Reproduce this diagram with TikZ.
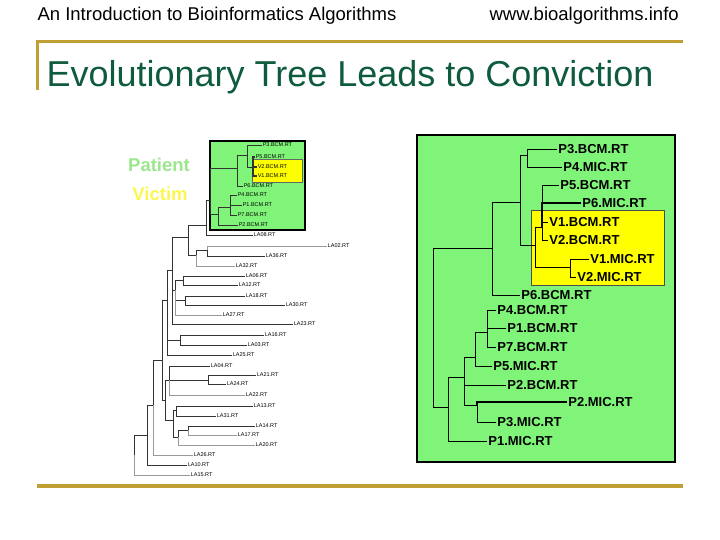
\documentclass[tikz,border=0pt]{standalone}
\usepackage{fontspec}
\setmainfont{Liberation Sans}
\usepackage{xcolor}
\usepackage{tikz}
\usetikzlibrary{positioning}
\definecolor{slidegold}{HTML}{C0A035}
\definecolor{titlegreen}{HTML}{0F5B3D}
\definecolor{panelgreen}{HTML}{80F478}
\definecolor{hiyellow}{HTML}{FFFF00}
\definecolor{patientgreen}{HTML}{9CE68E}
\definecolor{victimyellow}{HTML}{F8F850}

\begin{document}
\begin{tikzpicture}[x=1pt, y=-1pt,
  tinylab/.style={anchor=west, inner sep=0.6pt, font=\fontsize{5.5}{6}\selectfont},
  biglab/.style={anchor=west, inner sep=1.2pt, font=\bfseries\fontsize{13}{13}\selectfont},
  lbr/.style={draw=black!80, line width=0.55pt},
  faint/.style={draw=black!40, line width=0.5pt},
  rbr/.style={draw=black, line width=0.9pt},
  heavy/.style={draw=black, line width=1.8pt}]
  \useasboundingbox (0,0) rectangle (720,540);

  % slide frame
  \node[anchor=base west, font=\fontsize{18.5}{19}\selectfont] (course) at (34,21) {An Introduction to Bioinformatics Algorithms};
  \node[anchor=base west, font=\fontsize{18.5}{19}\selectfont] (site) at (486,21) {www.bioalgorithms.info};
  \draw[slidegold, line width=3pt] (37,90) -- (37,42) -- (683,42);
  \node[anchor=base west, text=titlegreen, font=\fontsize{36}{36}\selectfont] (title) at (43,87) {Evolutionary Tree Leads to Conviction};
  \draw[slidegold, line width=4pt] (37,486) -- (683,486);

  % highlight boxes
  \filldraw[fill=panelgreen, draw=black, line width=1.5pt] (210,141) rectangle (305,230);
  \filldraw[fill=hiyellow, draw=black!60, line width=0.4pt] (252,159) rectangle (302,182);
  \filldraw[fill=panelgreen, draw=black, line width=1.5pt] (417,135) rectangle (675,462);
  \filldraw[fill=hiyellow, draw=black!70, line width=0.6pt] (531,210) rectangle (664,285);
  \node[text=patientgreen, font=\bfseries\fontsize{18.5}{18.5}\selectfont] (patient) at (159,165) {Patient};
  \node[text=victimyellow, font=\bfseries\fontsize{18.5}{18.5}\selectfont] (victim) at (160,194) {Victim};

  % full tree (left)
  \foreach \n/\x/\y/\t in {lp3b/262/145/P3.BCM.RT, lp5b/255/157/P5.BCM.RT, lv2b/257/167/V2.BCM.RT,
      lv1b/257/176/V1.BCM.RT, lp6b/243/186/P6.BCM.RT, lp4b/237/195/P4.BCM.RT, lp1b/242/205/P1.BCM.RT,
      lp7b/237/215/P7.BCM.RT, lp2b/238/225/P2.BCM.RT, la08/253/235/LA08.RT, la02/327/246/LA02.RT,
      la36/265/256/LA36.RT, la32/235/266/LA32.RT, la06/245/276/LA06.RT, la12/238/285/LA12.RT,
      la18/245/296/LA18.RT, la30/285/305/LA30.RT, la27/222/315/LA27.RT, la23/293/324/LA23.RT,
      la16/264/335/LA16.RT, la03/247/345/LA03.RT, la25/232/355/LA25.RT, la04/210/366/LA04.RT,
      la21/256/375/LA21.RT, la24/226/384/LA24.RT, la22/245/395/LA22.RT, la13/253/406/LA13.RT,
      la31/216/416/LA31.RT, la14/255/426/LA14.RT, la17/237/435/LA17.RT, la20/255/445/LA20.RT,
      la26/193/455/LA26.RT, la10/187/465/LA10.RT, la15/190/475/LA15.RT}
    \node[tinylab] (\n) at (\x,\y) {\t};
  \foreach \n/\x/\y in {lr/134/455, n1/147/435, n2/153/405, n3/162/360, n4/167/300, n5/165/400,
      n6/169/380, n8/208/380, n7/173/420, n9/176/410, n10/178/437, n11/188/430, n12/172/270,
      n13/180/340, n14/188/237, n17/206/225, tt/210/200, t1/237/168, t3/247/155, t4/253/167,
      t2/218/214, t5/230/207, n16/196/255, n18/207/250, n15/175/290, n19/183/280, n20/185/300}
    \coordinate (\n) at (\x,\y);
  \foreach \a/\b in {lr/n1, n1/n2, n1/la10, n2/n3, n3/n4, n3/n5, n4/n12, n4/n13, n4/la25,
      n5/n6, n5/n7, n6/la04, n6/n8, n8/la21, n8/la24, n7/n9, n7/n10, n9/la13, n9/la31,
      n10/n11, n11/la14, n12/n14, n12/n15, n12/la23, n13/la16, n13/la03, n14/n17, n14/n16,
      n17/tt, n17/la08, tt/t1, tt/t2, t1/t3, t1/lp6b, t3/lp3b, t3/t4, t2/t5, t2/lp2b,
      t5/lp4b, t5/lp1b, t5/lp7b, n16/n18, n18/la36, n15/n19, n15/n20,
      n19/la06, n19/la12, n20/la18, n20/la30}
    \draw[lbr] (\a) |- (\b);
  \foreach \a/\b in {lr/la15, n2/la26, n16/la32, n18/la02, n15/la27, n11/la17, n10/la20, n6/la22}
    \draw[faint] (\a) |- (\b);
  \foreach \b in {lp5b, lv2b, lv1b}
    \draw[lbr, line width=1.2pt] (t4) |- (\b);

  % enlarged suspect clade (right)
  \foreach \n/\x/\y/\t in {p3b/557/149/P3.BCM.RT, p4m/562/167/P4.MIC.RT, p5b/559/185/P5.BCM.RT,
      p6m/581/203/P6.MIC.RT, v1b/548/222/V1.BCM.RT, v2b/548/240/V2.BCM.RT, v1m/589/259/V1.MIC.RT,
      v2m/576/277/V2.MIC.RT, p6b/520/295/P6.BCM.RT, p4b/496/310/P4.BCM.RT, p1b/506/328/P1.BCM.RT,
      p7b/496/347/P7.BCM.RT, p5m/492/366/P5.MIC.RT, p2b/506/385/P2.BCM.RT, p2m/567/402/P2.MIC.RT,
      p3m/496/422/P3.MIC.RT, p1m/487/441/P1.MIC.RT}
    \node[biglab] (\n) at (\x,\y) {\t};
  \foreach \n/\x/\y in {rr/433/330, ra/492/248, rb/520/202, rc/527/155, rd/535/245, re/542/227,
      rf/570/267, rg/448/407, rh/464/377, ri/475/357, rk/487/332, rj/477/405}
    \coordinate (\n) at (\x,\y);
  \foreach \a/\b in {rr/ra, rr/rg, ra/rb, ra/p6b, rb/rc, rb/rd, rc/p3b, rc/p4m, rd/re, rd/rf,
      re/p5b, re/v1b, re/v2b, rf/v1m, rf/v2m, rg/rh, rg/p1m, rh/ri, rh/p2b, rh/rj,
      ri/rk, ri/p5m, rk/p4b, rk/p1b, rk/p7b, rj/p3m}
    \draw[rbr] (\a) |- (\b);
  \draw[heavy] (re) |- (p6m);
  \draw[heavy] (rj) |- (p2m);
\end{tikzpicture}
\end{document}
